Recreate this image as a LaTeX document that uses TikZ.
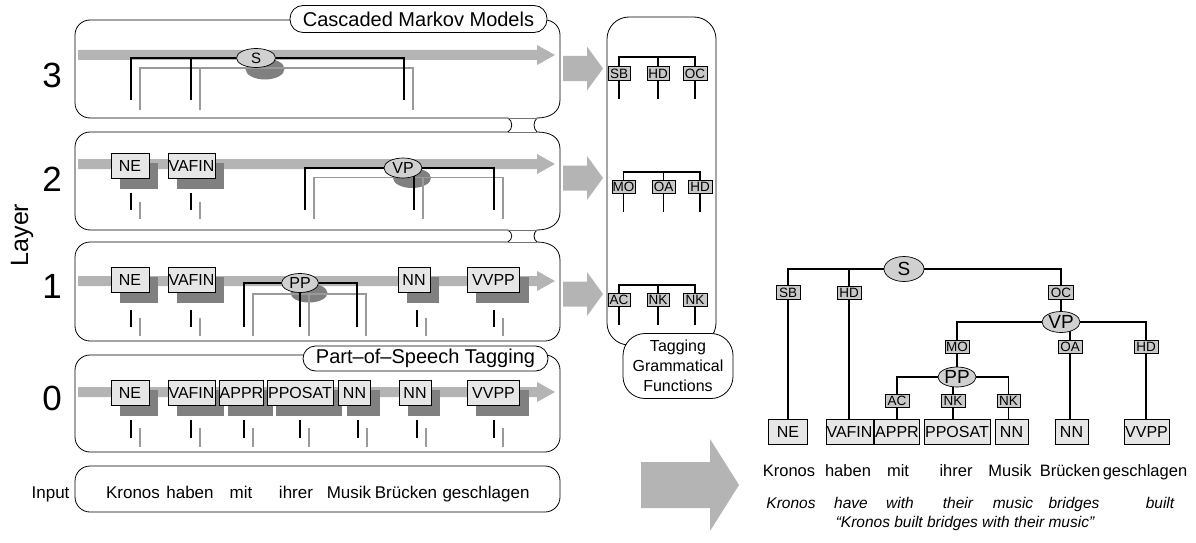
\documentclass[tikz,border=0pt]{standalone}
\usepackage{fontspec}
\setmainfont{Liberation Sans}
\usetikzlibrary{shapes.geometric,calc}
\pgfdeclarelayer{bgl}
\pgfdeclarelayer{shl}
\pgfdeclarelayer{lnl}
\pgfsetlayers{bgl,shl,lnl,main}
\definecolor{arrowgray}{HTML}{B4B4B4}
\definecolor{shadowgray}{HTML}{808080}
\definecolor{linegray}{HTML}{9A9A9A}
\definecolor{boxfill}{HTML}{E6E6E6}
\definecolor{labfill}{HTML}{C8C8C8}
\definecolor{ellfill}{HTML}{D0D0D0}
\newcommand{\myfs}[1]{\fontsize{#1}{#1}\selectfont}
\begin{document}
\begin{tikzpicture}[x=1pt,y=-1pt,
  outl/.style={line width=0.8pt, black},
  tube/.style={line width=0.5pt, black!55},
  blk/.style={line width=1.5pt, black},
  gry/.style={line width=1.5pt, linegray},
  tagbox/.style={draw, line width=0.7pt, fill=boxfill, minimum width=#1, minimum height=25pt, inner sep=0.5pt, font=\myfs{16}},
  fnbox/.style={draw, line width=0.7pt, fill=labfill, minimum width=#1, minimum height=13.5pt, inner sep=0.5pt, font=\myfs{13.5}},
  catell/.style={ellipse, draw, line width=0.7pt, fill=ellfill, inner sep=0pt, font=\myfs{#1}},
  pillbox/.style={draw, line width=0.8pt, fill=white, rounded corners=#1, inner sep=0pt},
  inword/.style={font=\myfs{17}, anchor=base},
  rword/.style={font=\myfs{16.5}, anchor=base},
  gloss/.style={font=\myfs{15.5}\itshape, anchor=base},
]
\useasboundingbox (0,0) rectangle (1196,543);

% ---------- labels on the left ----------
\node[font=\myfs{25}, rotate=90] (layerlab) at (22,235) {Layer};
\node[font=\myfs{35}] (d3) at (52,75) {3};
\node[font=\myfs{35}] (d2) at (52,179) {2};
\node[font=\myfs{35}] (d1) at (52,286) {1};
\node[font=\myfs{35}] (d0) at (52,398) {0};
\node[font=\myfs{17}, anchor=base east] (inp) at (73,498) {Input};

% ---------- layer 0 ----------
\node[tagbox=38pt] (ne0) at (130,393) {NE};
\node[tagbox=47pt] (vafin0) at (191.5,393) {VAFIN};
\node[tagbox=43pt] (appr0) at (241.5,393) {APPR};
\node[tagbox=66pt] (pposat0) at (300,393) {PPOSAT};
\node[tagbox=32pt] (nnA0) at (354.5,393) {NN};
\node[tagbox=32pt] (nnB0) at (415,393) {NN};
\node[tagbox=52pt] (vvpp0) at (493.5,393) {VVPP};

% ---------- layer 1 ----------
\node[tagbox=38pt] (ne1) at (130,280) {NE};
\node[tagbox=47pt] (vafin1) at (191.5,280) {VAFIN};
\node[tagbox=32pt] (nn1) at (414,280) {NN};
\node[tagbox=52pt] (vvpp1) at (493.5,280) {VVPP};
\node[catell=16, minimum width=37pt, minimum height=19pt] (pp1) at (300,283) {PP};

% ---------- layer 2 ----------
\node[tagbox=38pt] (ne2) at (130,166) {NE};
\node[tagbox=47pt] (vafin2) at (191.5,166) {VAFIN};
\node[catell=16, minimum width=38pt, minimum height=20pt] (vp2) at (403,168) {VP};

% ---------- layer 3 ----------
\node[catell=15, minimum width=39pt, minimum height=19pt] (s3) at (256,58) {S};

% ---------- pills ----------
\node[pillbox=13pt, minimum width=257pt, minimum height=27pt, font=\myfs{20}] (cmm) at (418.5,19) {Cascaded Markov Models};
\node[pillbox=12.5pt, minimum width=245pt, minimum height=25pt, font=\myfs{20}] (pos) at (425.5,358.5) {Part--of--Speech Tagging};
\node[pillbox=22pt, minimum width=110pt, minimum height=65pt, align=center, font={\fontsize{16}{20}\selectfont}] (tgf) at (678,366) {Tagging\\Grammatical\\Functions};

% ---------- input words ----------
\node[inword] (w1) at (133,498) {Kronos};
\node[inword] (w2) at (190,498) {haben};
\node[inword] (w3) at (241,498) {mit};
\node[inword] (w4) at (296,498) {ihrer};
\node[inword] (w5) at (349,498) {Musik};
\node[inword] (w6) at (406,498) {Brücken};
\node[inword] (w7) at (486,498) {geschlagen};

% ---------- grammatical function box ----------
\node[fnbox=22pt] (gSB) at (619,73.5) {SB};
\node[fnbox=22pt] (gHDa) at (658,73.5) {HD};
\node[fnbox=24pt] (gOC) at (695,73.5) {OC};
\node[fnbox=23pt] (gMO) at (623.5,187) {MO};
\node[fnbox=23pt] (gOA) at (663.5,187) {OA};
\node[fnbox=24pt] (gHDb) at (700,187) {HD};
\node[fnbox=22pt] (gAC) at (619,300) {AC};
\node[fnbox=22pt] (gNKa) at (658,300) {NK};
\node[fnbox=24pt] (gNKb) at (695,300) {NK};
\coordinate (g1) at (658,57);
\coordinate (g2) at (663.5,172);
\coordinate (g3) at (658,285);

% ---------- right tree ----------
\node[catell=19, minimum width=40pt, minimum height=25pt] (rS) at (904,269) {S};
\node[catell=19, minimum width=38pt, minimum height=21pt] (rVP) at (1061,322) {VP};
\node[catell=19, minimum width=38pt, minimum height=20pt] (rPP) at (957,377) {PP};
\node[fnbox=24pt] (rSB) at (788,292.5) {SB};
\node[fnbox=24pt] (rHD) at (849,293) {HD};
\node[fnbox=25pt] (rOC) at (1061,292.5) {OC};
\node[fnbox=24pt] (rMO) at (957,347) {MO};
\node[fnbox=24pt] (rOA) at (1070,347) {OA};
\node[fnbox=24pt] (rHDb) at (1146,347) {HD};
\node[fnbox=24pt] (rAC) at (897,401) {AC};
\node[fnbox=24pt] (rNKa) at (953,401) {NK};
\node[fnbox=23pt] (rNKb) at (1008.5,401) {NK};
\node[tagbox=39pt] (rNE) at (788,432) {NE};
\node[tagbox=47pt] (rVAFIN) at (849.5,432) {VAFIN};
\node[tagbox=40pt] (rAPPR) at (897,432) {APPR};
\node[tagbox=66pt] (rPPOSAT) at (957,432) {PPOSAT};
\node[tagbox=33pt] (rNNa) at (1011.5,432) {NN};
\node[tagbox=33pt] (rNNb) at (1071.5,432) {NN};
\node[tagbox=45pt] (rVVPP) at (1146.5,432) {VVPP};
\node[rword] (r1) at (789,476) {Kronos};
\node[rword] (r2) at (848,476) {haben};
\node[rword] (r3) at (898,476) {mit};
\node[rword] (r4) at (956,476) {ihrer};
\node[rword] (r5) at (1010,476) {Musik};
\node[rword] (r6) at (1070,476) {Brücken};
\node[rword] (r7) at (1145,476) {geschlagen};
\node[gloss] (e1) at (791,508) {Kronos};
\node[gloss] (e2) at (851,508) {have};
\node[gloss] (e3) at (900,508) {with};
\node[gloss] (e4) at (958,508) {their};
\node[gloss] (e5) at (1013,508) {music};
\node[gloss] (e6) at (1074,508) {bridges};
\node[gloss] (e7) at (1160,508) {built};
\node[gloss] (trans) at (965,527) {``Kronos built bridges with their music''};

% ================= background layer =================
\begin{pgfonlayer}{bgl}
  \draw[outl, rounded corners=15pt] (508,118) -- (75,118) -- (75,20) -- (560,20) -- (560,100);
  \draw[outl, rounded corners=15pt] (508,132) -- (75,132) -- (75,230) -- (508,230);
  \draw[outl, rounded corners=15pt] (508,242) -- (75,242) -- (75,341) -- (560,341) -- (560,260);
  \draw[outl] (560,100) .. controls (560,112) and (550,118) .. (537,118)
              .. controls (533,122) and (533,128) .. (537,132)
              .. controls (550,132) and (560,137) .. (560,149)
              -- (560,212)
              .. controls (560,224) and (550,230) .. (537,230)
              .. controls (533,233) and (533,239) .. (537,242)
              .. controls (550,242) and (560,248) .. (560,260);
  \foreach \a/\b in {118/132, 230/242} {
    \draw[outl] (508,\a) .. controls (513,\a+3) and (513,\b-3) .. (508,\b);
    \draw[tube] (508,\a) -- (537,\a);
    \draw[tube] (508,\b) -- (537,\b);
  }
  \draw[outl, rounded corners=15pt] (75,355) rectangle (560,452);
  \draw[outl, rounded corners=15pt] (75,466) rectangle (560,512);
  \draw[outl, rounded corners=22pt] (607,17) rectangle (716,345);
  \foreach \c in {55,164,281,392}
    \fill[arrowgray] (78,\c-5) -- (537,\c-5) -- (537,\c-10) -- (555,\c) -- (537,\c+10) -- (537,\c+5) -- (78,\c+5) -- cycle;
  \foreach \c in {68.5,178,294}
    \fill[arrowgray] (563,\c-12.5) -- (587,\c-12.5) -- (587,\c-22) -- (603,\c) -- (587,\c+22) -- (587,\c+12.5) -- (563,\c+12.5) -- cycle;
  \fill[arrowgray] (641,462) -- (710,462) -- (710,439) -- (739,485) -- (710,531) -- (710,508) -- (641,508) -- cycle;
\end{pgfonlayer}

% ================= shadows =================
\begin{pgfonlayer}{shl}
  \foreach \n in {ne0,vafin0,appr0,pposat0,nnA0,nnB0,vvpp0,ne1,vafin1,nn1,vvpp1,ne2,vafin2}
    \fill[shadowgray] ([shift={(9,10)}]\n.north west) rectangle ([shift={(9,10)}]\n.south east);
  \fill[shadowgray] ([shift={(9,11)}]s3.center) ellipse [x radius=19.5pt, y radius=10.5pt];
  \fill[shadowgray] ([shift={(9,10)}]vp2.center) ellipse [x radius=19pt, y radius=10pt];
  \fill[shadowgray] ([shift={(9,10)}]pp1.center) ellipse [x radius=18.5pt, y radius=9.5pt];
\end{pgfonlayer}

% ================= lines =================
\begin{pgfonlayer}{lnl}
  \draw[gry] (140,110) -- (140,68) -- (413,68) -- (413,110);
  \draw[gry] (200,110) -- (200,68);
  \draw[blk] (131,100) |- (s3) -| (404,100);
  \draw[blk] (191,100) -- (191,58);
  \draw[gry] (314,219) -- (314,177.5) -- (503,177.5) -- (503,219);
  \draw[gry] (423,219) -- (423,177.5);
  \draw[blk] (305,210) |- (vp2) -| (494,210);
  \draw[blk] (414,210) -- (414,168);
  \foreach \x in {131,191} {
    \draw[blk] (\x,193) -- (\x,210);
    \draw[gry] (\x+9,202) -- (\x+9,219);
  }
  \draw[gry] (253,336) -- (253,294) -- (366,294) -- (366,336);
  \draw[gry] (309,336) -- (309,294);
  \draw[blk] (244,327) |- (pp1) -| (357,327);
  \draw[blk] (300,327) -- (pp1);
  \foreach \x in {131,191,417,494} {
    \draw[blk] (\x,310) -- (\x,327);
    \draw[gry] (\x+9,318) -- (\x+9,336);
  }
  \foreach \x in {131,191,244,300,358,417,494} {
    \draw[blk] (\x,420) -- (\x,438);
    \draw[gry] (\x+9,428) -- (\x+9,447);
  }
  \draw[blk] (gSB.center) |- (g1) -| (gOC.center);
  \draw[blk] (g1) -- (gHDa.center);
  \foreach \n in {gSB,gHDa,gOC} \draw[blk] (\n.center) -- ++(0,25);
  \draw[blk] (gMO.center) |- (g2) -| (gHDb.center);
  \draw[blk] (g2) -- (gOA.center);
  \foreach \n in {gMO,gOA,gHDb} \draw[blk] (\n.center) -- ++(0,25);
  \draw[blk] (gAC.center) |- (g3) -| (gNKb.center);
  \draw[blk] (g3) -- (gNKa.center);
  \foreach \n in {gAC,gNKa,gNKb} \draw[blk] (\n.center) -- ++(0,25);
  \draw[blk] (rS) -| (rSB) -- (rNE);
  \draw[blk] (rS) -| (rHD) -- (rHD |- rVAFIN.north);
  \draw[blk] (rS) -| (rOC) -- (rVP);
  \draw[blk] (rVP) -| (rMO) -- (rPP);
  \draw[blk] (rOA |- rVP) -- (rOA) -- (rOA |- rNNb.north);
  \draw[blk] (rVP) -| (rHDb) -- (rHDb |- rVVPP.north);
  \draw[blk] (rPP) -| (rAC) -- (rAC |- rAPPR.north);
  \draw[blk] (rNKa |- rPP) -- (rNKa) -- (rNKa |- rPPOSAT.north);
  \draw[blk] (rPP) -| (rNKb) -- (rNKb |- rNNa.north);
\end{pgfonlayer}
\end{tikzpicture}
\end{document}
